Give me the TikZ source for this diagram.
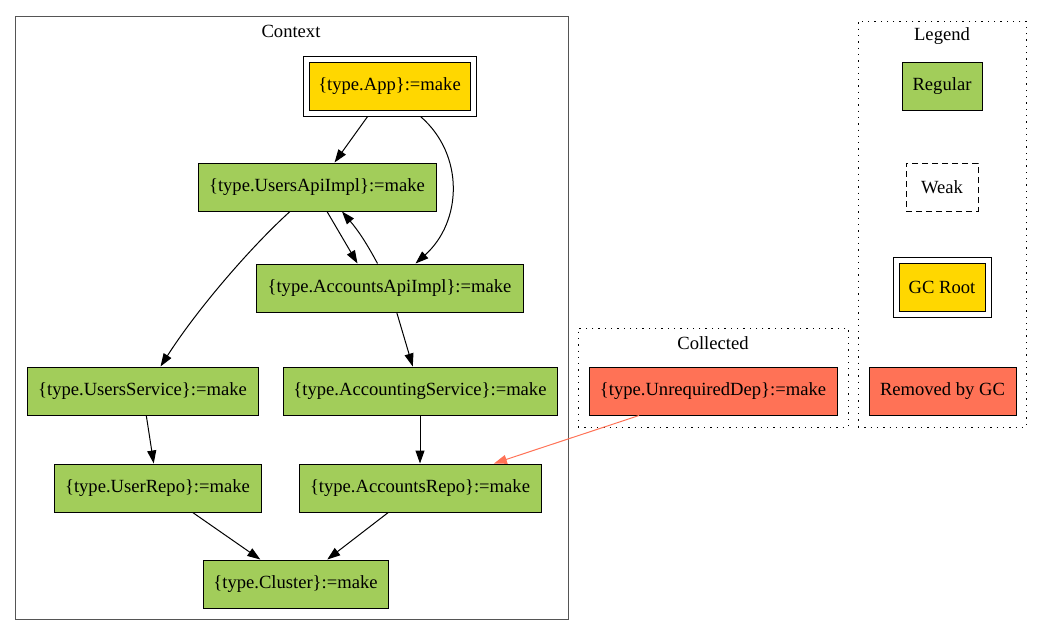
\documentclass[tikz,border=0pt]{standalone}
\usepackage{fontspec}
\setmainfont{Liberation Serif}
\usetikzlibrary{arrows.meta,positioning,calc}
\definecolor{depgreen}{HTML}{A2CD5A}
\definecolor{rootgold}{HTML}{FFD700}
\definecolor{gccoral}{HTML}{FF7256}
\definecolor{clgray}{HTML}{555555}

\begin{document}
\begin{tikzpicture}
[x=1pt,y=-1pt,->,>={Triangle[length=13pt,width=9pt]},
line width=1pt, font=\fontsize{18.6}{22}\selectfont,
dep/.style={draw,fill=depgreen,inner sep=0pt,minimum height=48pt,minimum width=#1},
gc/.style={draw,fill=gccoral,inner sep=0pt,minimum height=48pt,minimum width=#1},
root/.style={draw,fill=rootgold,inner sep=0pt,minimum height=48pt,minimum width=#1},
frame/.style={draw,fill=white,inner sep=0pt,minimum height=60pt,minimum width=#1},
weakbox/.style={draw,dash pattern=on 6pt off 4pt,inner sep=0pt,minimum height=48pt,minimum width=#1},
cluster/.style={draw=clgray,inner sep=0pt},
dotbox/.style={draw,dash pattern=on 1.3pt off 5pt,inner sep=0pt}]
\useasboundingbox (0,0) rectangle (1043,635);

\node (context) at (291.5,317.5) [cluster,minimum width=553pt,minimum height=603pt] {};
\node (contextlbl) at (291,31) {Context};
\node (collected) at (713,377.5) [dotbox,minimum width=270pt,minimum height=99pt] {};
\node (collectedlbl) at (713,343) {Collected};
\node (legend) at (942,224) [dotbox,minimum width=168pt,minimum height=406pt] {};
\node (legendlbl) at (942,36) {Legend};

\node (app) at (389.5,86) [frame=173pt] {};
\node (appin) at (389.5,86) [root=161pt] {\{type.App\}:=make};
\node (usersapi) at (317,187) [dep=238pt] {\{type.UsersApiImpl\}:=make};
\node (accapi) at (389.5,288) [dep=267pt] {\{type.AccountsApiImpl\}:=make};
\node (userssvc) at (142.5,391) [dep=231pt] {\{type.UsersService\}:=make};
\node (accsvc) at (420,391) [dep=274pt] {\{type.AccountingService\}:=make};
\node (userrepo) at (157.5,488) [dep=207pt] {\{type.UserRepo\}:=make};
\node (accrepo) at (420,488) [dep=242pt] {\{type.AccountsRepo\}:=make};
\node (cluster) at (295.5,584) [dep=185pt] {\{type.Cluster\}:=make};
\node (unreq) at (713,391) [gc=248pt] {\{type.UnrequiredDep\}:=make};

\node (regular) at (942,86) [dep=80pt] {Regular};
\node (weak) at (942,187) [weakbox=72pt] {Weak};
\node (gcroot) at (942,287) [frame=98pt] {};
\node (gcrootin) at (942,287) [root=86pt] {GC Root};
\node (removed) at (942.5,391) [gc=147pt] {Removed by GC};

\draw (app) -- (usersapi);
\draw ([xshift=31pt]app.south) .. controls (465,155) and (462,222) .. ([xshift=26pt]accapi.north);
\draw ([xshift=10pt]usersapi.south) -- ([xshift=-32pt]accapi.north);
\draw ([xshift=-12pt]accapi.north) to[bend right=6] ([xshift=25pt]usersapi.south);
\draw ([xshift=-27pt]usersapi.south) .. controls (255,243) and (200,305) .. ([xshift=18pt]userssvc.north);
\draw (accapi) -- (accsvc);
\draw (userssvc) -- (userrepo);
\draw (accsvc) -- (accrepo);
\draw (userrepo) -- (cluster);
\draw (accrepo) -- (cluster);
\draw[gccoral] (unreq) -- (accrepo);

\end{tikzpicture}
\end{document}
